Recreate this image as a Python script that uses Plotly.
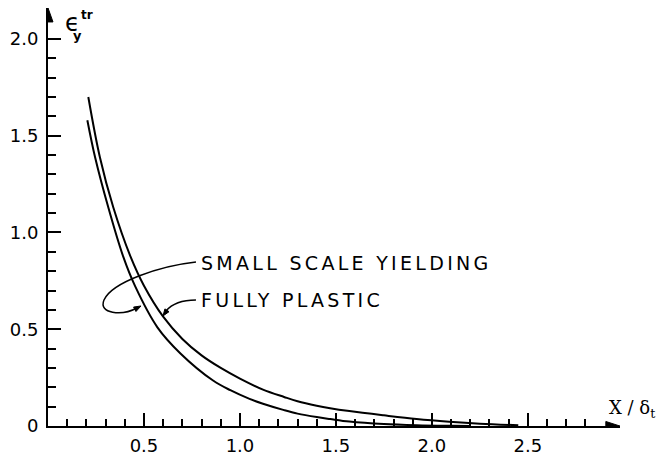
import plotly.graph_objects as go

# Fully plastic (upper / right curve)
fp_x = [0.21, 0.27, 0.34, 0.43, 0.50, 0.60, 0.70, 0.80, 0.90, 1.00, 1.12, 1.23, 1.30, 1.40, 1.47, 1.57, 1.75, 1.92, 2.09, 2.25, 2.45]
fp_y = [1.70, 1.39, 1.13, 0.875, 0.725, 0.565, 0.45, 0.365, 0.30, 0.245, 0.188, 0.150, 0.128, 0.105, 0.092, 0.077, 0.055, 0.036, 0.022, 0.012, 0.004]

# Small scale yielding (lower / left curve)
ssy_x = [0.205, 0.245, 0.314, 0.392, 0.455, 0.57, 0.69, 0.86, 0.95, 1.05, 1.12, 1.23, 1.30, 1.40, 1.47, 1.57, 1.75, 1.92, 2.10, 2.20]
ssy_y = [1.58, 1.39, 1.13, 0.875, 0.72, 0.51, 0.375, 0.235, 0.185, 0.140, 0.115, 0.082, 0.064, 0.046, 0.036, 0.023, 0.010, 0.004, 0.001, 0.0]

x_major = [0.5, 1.0, 1.5, 2.0, 2.5]
x_major_text = ["0.5", "1.0", "1.5", "2.0", "2.5"]
x_minor = [round(0.1 * i, 1) for i in range(1, 29)]
y_major = [0, 0.5, 1.0, 1.5, 2.0]
y_major_text = ["0", "0.5", "1.0", "1.5", "2.0"]
y_minor = [round(0.1 * i, 1) for i in range(1, 21)]

FONT = "DejaVu Sans"
fig = go.Figure()
for xs, ys, name in [(fp_x, fp_y, "FULLY PLASTIC"), (ssy_x, ssy_y, "SMALL SCALE YIELDING")]:
    fig.add_trace(go.Scatter(x=xs, y=ys, mode="lines", name=name,
                             line=dict(color="black", width=2, shape="spline", smoothing=1.0),
                             cliponaxis=False, showlegend=False))

axis_common = dict(showline=True, linecolor="black", linewidth=2, showgrid=False, zeroline=False,
                   automargin=False,
                   ticks="inside", tickcolor="black", tickwidth=1.5, ticklen=13,
                   tickfont=dict(family=FONT, size=18, color="black"))
fig.update_xaxes(range=[0, 2.98], tickmode="array", tickvals=x_major, ticktext=x_major_text,
                 minor=dict(tickmode="array", tickvals=x_minor, ticks="inside", ticklen=7,
                            tickcolor="black", tickwidth=1.5),
                 ticklabelstandoff=2, **axis_common)
fig.update_yaxes(range=[0, 2.160], tickmode="array", tickvals=y_major, ticktext=y_major_text,
                 minor=dict(tickmode="array", tickvals=y_minor, ticks="inside", ticklen=8,
                            tickcolor="black", tickwidth=1.5),
                 ticklabelstandoff=4, **axis_common)

def px2d(px, py):
    return (px - 48) / 192.0, (426 - py) / 193.5

ann = []
# axis titles
ex, ey = px2d(73, 23)
ann.append(dict(x=ex, y=ey, xref="x", yref="y", text="ϵ", showarrow=False,
                font=dict(family=FONT, size=24, color="black")))
tx, ty = px2d(87, 15)
ann.append(dict(x=tx, y=ty, xref="x", yref="y", text="<b>tr</b>", showarrow=False,
                font=dict(family=FONT, size=12, color="black")))
yx, yy = px2d(78, 36)
ann.append(dict(x=yx, y=yy, xref="x", yref="y", text="<b>y</b>", showarrow=False,
                font=dict(family=FONT, size=13, color="black")))
xx, xy = px2d(607, 409)
ann.append(dict(x=xx, y=xy, xref="x", yref="y", text="X / δ<sub>t</sub>", showarrow=False,
                xanchor="left", font=dict(family="DejaVu Serif", size=18, color="black")))

# curve labels
lx, ly = px2d(199, 263)
ann.append(dict(x=lx, y=ly, xref="x", yref="y", xanchor="left",
                text="<span style='letter-spacing:3.3px'>SMALL SCALE YIELDING</span>", showarrow=False,
                font=dict(family=FONT, size=19, color="black")))
lx2, ly2 = px2d(199, 300)
ann.append(dict(x=lx2, y=ly2, xref="x", yref="y", xanchor="left",
                text="<span style='letter-spacing:3.3px'>FULLY PLASTIC</span>", showarrow=False,
                font=dict(family=FONT, size=19, color="black")))

def pth(pts):
    d = [px2d(*p) for p in pts]
    s = "M %.4f,%.4f" % d[0]
    i = 1
    while i < len(d):
        s += " C %.4f,%.4f %.4f,%.4f %.4f,%.4f" % (d[i] + d[i + 1] + d[i + 2])
        i += 3
    return s

def tri(pts):
    d = [px2d(*p) for p in pts]
    return "M %.4f,%.4f L %.4f,%.4f L %.4f,%.4f Z" % (d[0] + d[1] + d[2])

shapes = [
    dict(type="path", xref="x", yref="y",
         path=pth([(196, 262), (160, 266), (112, 282), (104, 300), (98, 314), (122, 316), (137, 308)]),
         line=dict(color="black", width=1.5)),
    dict(type="path", xref="x", yref="y",
         path=pth([(196, 300), (180, 300), (171, 305), (166, 311)]),
         line=dict(color="black", width=1.5)),
    # leader arrowheads
    dict(type="path", xref="x", yref="y", path=tri([(141, 306), (136.0, 311.5), (133.6, 307.1)]),
         line=dict(color="black", width=1), fillcolor="black"),
    dict(type="path", xref="x", yref="y", path=tri([(163, 316), (169.05, 311.7), (164.95, 308.9)]),
         line=dict(color="black", width=1), fillcolor="black"),
    # axis arrowheads
    dict(type="path", xref="x", yref="y", path=tri([(620, 426), (606, 421.5), (606, 430.5)]),
         line=dict(color="black", width=1), fillcolor="black"),
    dict(type="path", xref="x", yref="y", path=tri([(48, 8), (43, 22), (53, 22)]),
         line=dict(color="black", width=1), fillcolor="black"),
]

# The page body has an 8px margin, so the figure is laid out 8px in from the window's corner.
fig.update_layout(width=659, height=448, margin=dict(l=40, r=47, t=0, b=30, autoexpand=False),
                  plot_bgcolor="white", paper_bgcolor="white",
                  annotations=ann, shapes=shapes, showlegend=False)
fig.write_html("out.html")
